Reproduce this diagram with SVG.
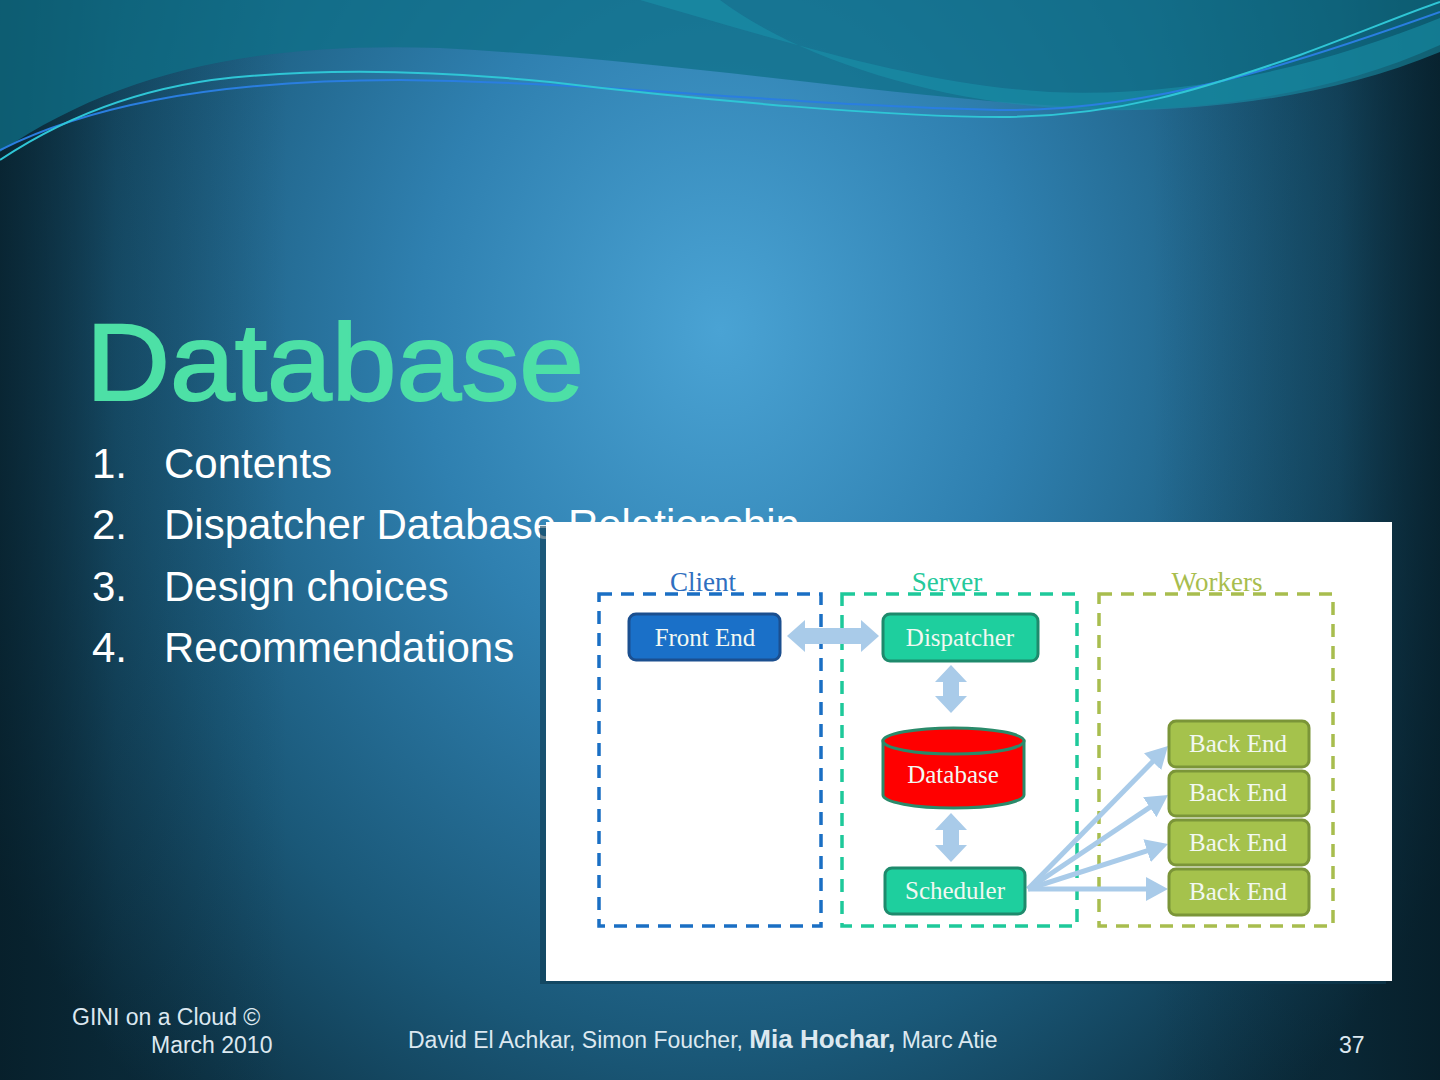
<svg xmlns="http://www.w3.org/2000/svg" width="1440" height="1080" viewBox="0 0 1440 1080">
<defs>
<radialGradient id="bg" cx="720" cy="330" r="900" gradientUnits="userSpaceOnUse" gradientTransform="translate(720 330) scale(0.95 1.15) translate(-720 -330)">
<stop offset="0" stop-color="#4aa3d4"/>
<stop offset="0.35" stop-color="#2f80b0"/>
<stop offset="0.7" stop-color="#1a5878"/>
<stop offset="1" stop-color="#0b2c3c"/>
</radialGradient>
<linearGradient id="edge" x1="0" y1="0" x2="1" y2="0">
<stop offset="0" stop-color="#061c26" stop-opacity="0.75"/>
<stop offset="0.08" stop-color="#061c26" stop-opacity="0.25"/>
<stop offset="0.2" stop-color="#061c26" stop-opacity="0"/>
<stop offset="0.8" stop-color="#061c26" stop-opacity="0"/>
<stop offset="0.93" stop-color="#061c26" stop-opacity="0.3"/>
<stop offset="1" stop-color="#061c26" stop-opacity="0.8"/>
</linearGradient>
<marker id="ah" viewBox="0 0 22 24" refX="8" refY="12" markerWidth="22" markerHeight="24" markerUnits="userSpaceOnUse" orient="auto">
<path d="M0,0 L22,12 L0,24 Z" fill="#a9cbe9"/>
</marker>
</defs>
<style>
.list{font-family:"Liberation Sans",Arial,sans-serif;font-size:42px;fill:#ffffff}
.foot{font-family:"Liberation Sans",Arial,sans-serif;font-size:23px;fill:#dce8f0}
.lbl{font-family:"Liberation Serif","Times New Roman",serif;font-size:27px;text-anchor:middle}
.bt{font-family:"Liberation Serif","Times New Roman",serif;font-size:25px;text-anchor:middle;fill:#f2f8f2}
.box{stroke-width:3}
.dash{fill:none;stroke-width:3.5;stroke-dasharray:13 9}
.arr{fill:#a9cbe9}
.fan{stroke:#a9cbe9;stroke-width:5;fill:none;marker-end:url(#ah)}
</style>
<rect width="1440" height="1080" fill="url(#bg)"/>
<rect width="1440" height="1080" fill="url(#edge)"/>
<!-- top waves -->
<path d="M0,0 H1440 V45 C1330,95 1200,112 1100,108 C900,100 700,62 440,48 C260,42 120,70 0,152 Z" fill="#0f7088" opacity="0.75"/>
<path d="M640,0 C780,40 920,85 1050,92 C1200,98 1330,62 1440,18 L1440,52 C1330,98 1200,112 1100,110 C950,108 800,60 720,0 Z" fill="#1a93ab" opacity="0.55"/>
<path d="M0,150 C80,110 200,80 400,80 C600,82 800,106 1000,110 C1150,112 1300,62 1440,12" fill="none" stroke="#2a7ee0" stroke-width="2"/>
<path d="M0,160 C60,120 140,84 250,76 C350,68 450,72 550,82 C700,100 900,118 1010,117 C1120,115 1200,90 1300,55 C1360,33 1410,12 1440,2" fill="none" stroke="#2fc6d6" stroke-width="2"/>
<!-- title -->
<text x="86" y="400" font-family="'Liberation Sans',Arial,sans-serif" font-size="110" fill="#4de0a6" stroke="#4de0a6" stroke-width="2" textLength="498" lengthAdjust="spacingAndGlyphs">Database</text>
<!-- list -->
<g class="list">
<text x="92" y="478">1.</text><text x="164" y="478">Contents</text>
<text x="92" y="539">2.</text><text x="164" y="539">Dispatcher Database Relationship</text>
<text x="92" y="601">3.</text><text x="164" y="601">Design choices</text>
<text x="92" y="662">4.</text><text x="164" y="662">Recommendations</text>
</g>
<!-- panel -->
<rect x="540" y="526" width="846" height="458" fill="#0d3a52" opacity="0.6"/>
<rect x="546" y="522" width="846" height="459" fill="#ffffff"/>
<!-- containers -->
<g id="client-area">
<rect class="dash" x="599" y="594" width="222" height="332" stroke="#1a6fc4"/>
<text class="lbl" x="703" y="591" fill="#2f6fc0">Client</text>
</g>
<g id="server-area">
<rect class="dash" x="842" y="594" width="235" height="332" stroke="#1ec99a"/>
<text class="lbl" x="947" y="591" fill="#25c99b">Server</text>
</g>
<g id="workers-area">
<rect class="dash" x="1099" y="594" width="234" height="332" stroke="#a8bd4e"/>
<text class="lbl" x="1217" y="591" fill="#a8bd4e">Workers</text>
</g>
<!-- connectors -->
<g id="connectors">
<polygon class="arr" points="787,636 805,620 805,628 861,628 861,620 879,636 861,652 861,644 805,644 805,652"/>
<polygon class="arr" points="951,665 967,682 959,682 959,696 967,696 951,713 935,696 943,696 943,682 935,682"/>
<polygon class="arr" points="951,813 967,830 959,830 959,845 967,845 951,862 935,845 943,845 943,830 935,830"/>
<line class="fan" x1="1028" y1="889" x2="1158.2" y2="756"/>
<line class="fan" x1="1028" y1="889" x2="1156.4" y2="802.8"/>
<line class="fan" x1="1028" y1="889" x2="1154.7" y2="848.3"/>
<line class="fan" x1="1028" y1="889" x2="1154" y2="889"/>
</g>
<!-- nodes -->
<g id="frontend">
<rect class="box" x="629" y="614" width="151" height="46" rx="7" fill="#1a70c8" stroke="#1b4f8f"/>
<text class="bt" x="705" y="646">Front End</text>
</g>
<g id="dispatcher">
<rect class="box" x="883" y="614" width="155" height="47" rx="7" fill="#1ecf9e" stroke="#1e8a6c"/>
<text class="bt" x="960" y="646">Dispatcher</text>
</g>
<g id="database">
<path class="box" d="M883,741 V795 A70.5,13 0 0 0 1024,795 V741 Z" fill="#ff0000" stroke="#2a8a6a"/>
<ellipse class="box" cx="953.5" cy="741" rx="70.5" ry="13" fill="#ff0000" stroke="#2a8a6a"/>
<text class="bt" x="953" y="783">Database</text>
</g>
<g id="scheduler">
<rect class="box" x="885" y="868" width="140" height="46" rx="7" fill="#1ecf9e" stroke="#1e8a6c"/>
<text class="bt" x="955" y="899">Scheduler</text>
</g>
<g id="backend1">
<rect class="box" x="1169" y="721" width="140" height="46" rx="7" fill="#a5c24c" stroke="#7b9538"/>
<text class="bt" x="1238" y="752">Back End</text>
</g>
<g id="backend2">
<rect class="box" x="1169" y="771" width="140" height="45" rx="7" fill="#a5c24c" stroke="#7b9538"/>
<text class="bt" x="1238" y="801">Back End</text>
</g>
<g id="backend3">
<rect class="box" x="1169" y="820" width="140" height="45" rx="7" fill="#a5c24c" stroke="#7b9538"/>
<text class="bt" x="1238" y="851">Back End</text>
</g>
<g id="backend4">
<rect class="box" x="1169" y="869" width="140" height="46" rx="7" fill="#a5c24c" stroke="#7b9538"/>
<text class="bt" x="1238" y="900">Back End</text>
</g>
<!-- footer -->
<text class="foot" x="72" y="1025">GINI on a Cloud ©</text>
<text class="foot" x="151" y="1053">March 2010</text>
<text class="foot" x="408" y="1048">David El Achkar, Simon Foucher, <tspan font-size="26" font-weight="bold">Mia Hochar,</tspan> Marc Atie</text>
<text class="foot" x="1339" y="1053">37</text>
</svg>
